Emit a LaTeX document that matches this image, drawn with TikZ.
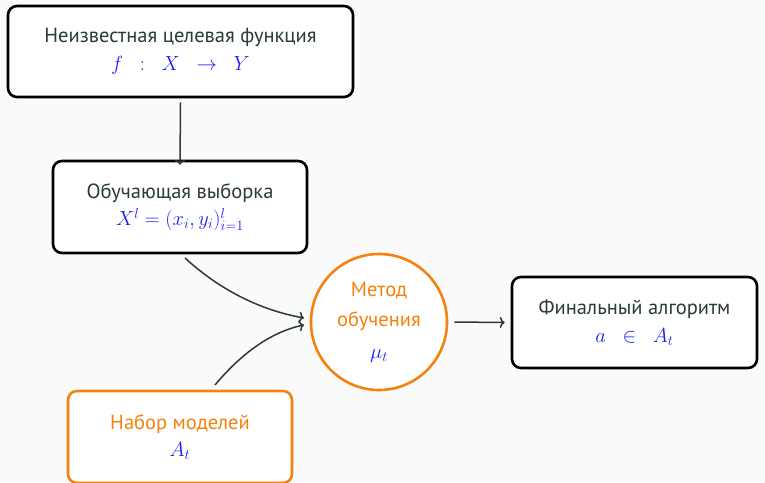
\RequirePackage{fix-cm}
\documentclass[tikz,border=0pt]{standalone}
\usepackage[no-math]{fontspec}
\setmainfont{PT Sans}
\usetikzlibrary{arrows.meta}
\definecolor{bgc}{HTML}{FAFAFA}
\definecolor{txt}{HTML}{2B3A3C}
\definecolor{org}{HTML}{F5820F}
\definecolor{mth}{HTML}{2020F0}
\tikzset{
  blk/.style={draw=black, line width=2.6pt, rounded corners=9pt, fill=white, text=txt, align=center, font=\fontsize{20.5}{27.5}\selectfont},
  oblk/.style={blk, draw=org, text=org},
  meth/.style={circle, draw=org, line width=2.6pt, fill=white, text=org, align=center, minimum size=136pt, inner sep=0pt, font=\fontsize{20.5}{30}\selectfont},
  conn/.style={draw=txt, line width=1.5pt, -{To[length=5pt,width=11pt]}},
}
\newcommand{\mb}[1]{\textcolor{mth}{$#1$}}
\begin{document}
\begin{tikzpicture}[x=1pt,y=-1pt]
\fill[bgc] (0,0) rectangle (765,482);
\useasboundingbox (0,0) rectangle (765,482);
\node[blk, minimum width=345pt, minimum height=91pt] (target) at (180.5,51.5)
  {Неизвестная целевая функция\\ \mb{f\ \ :\ \ X\ \ \to\ \ Y}};
\node[blk, minimum width=254pt, minimum height=92pt] (sample) at (180,207)
  {Обучающая выборка\\ \mb{X^l = (x_i, y_i)_{i=1}^l}};
\node[oblk, minimum width=224pt, minimum height=92pt] (models) at (180,437)
  {Набор моделей\\ \mb{A_t}};
\node[meth] (method) at (379,322)
  {Метод\\ обучения\\[2pt] \mb{\mu_t}};
\node[blk, minimum width=245pt, minimum height=91pt] (final) at (634.5,322.5)
  {Финальный алгоритм\\ \mb{a\ \ \in\ \ A_t}};
\coordinate (s1) at (185,258);
\coordinate (s2) at (215,385);
\coordinate (m1) at (304,318);
\coordinate (m2) at (304,325);
\draw[conn] (target.south) ++(0,4) -- ([yshift=-5pt]sample.north);
\draw[conn] (s1) .. controls (220,290) and (260,310) .. (m1);
\draw[conn] (s2) .. controls (240,355) and (270,332) .. (m2);
\draw[conn] ([xshift=6pt]method.east) -- ([xshift=-6pt]final.west);
\end{tikzpicture}
\end{document}
